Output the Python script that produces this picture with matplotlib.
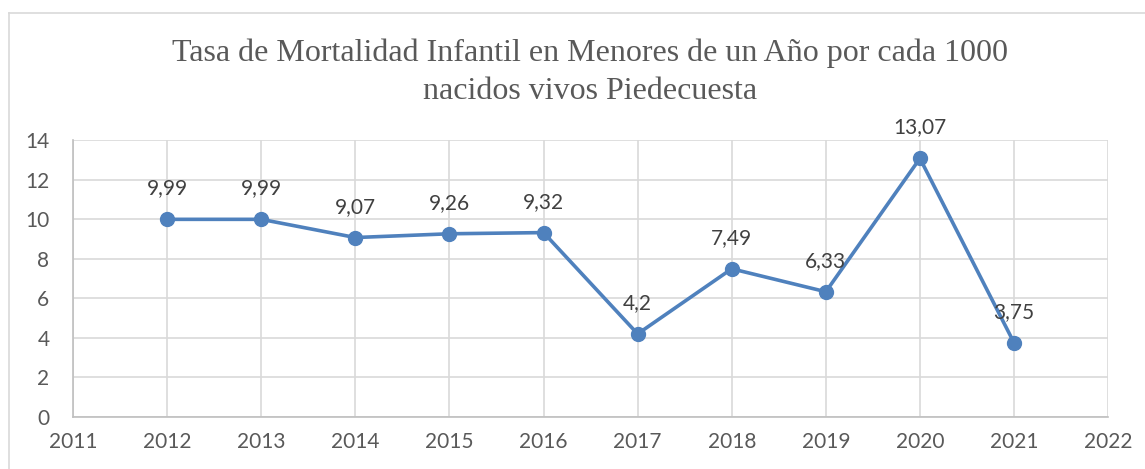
import matplotlib.pyplot as plt
from matplotlib.lines import Line2D

# datos
years = [2012, 2013, 2014, 2015, 2016, 2017, 2018, 2019, 2020, 2021]
rates = [9.99, 9.99, 9.07, 9.26, 9.32, 4.2, 7.49, 6.33, 13.07, 3.75]
labels = ['9,99', '9,99', '9,07', '9,26', '9,32', '4,2', '7,49', '6,33', '13,07', '3,75']
x_ticks = list(range(2011, 2023))
y_ticks = [0, 2, 4, 6, 8, 10, 12, 14]

title = 'Tasa de Mortalidad Infantil en Menores de un Año por cada 1000\nnacidos vivos Piedecuesta'

fig = plt.figure(figsize=(11.45, 4.69), dpi=100)
ax = fig.add_axes([0.0638, 0.1109, 0.904, 0.5906])

# marco del gráfico
fig.add_artist(Line2D([9 / 1145, 9 / 1145], [0, 1 - 13 / 469], color='#d9d9d9', lw=1.2))
fig.add_artist(Line2D([9 / 1145, 1], [1 - 13 / 469, 1 - 13 / 469], color='#d9d9d9', lw=1.2))

ax.plot(years, rates, color='#4f81bd', lw=2.6, marker='o', markersize=10, zorder=3)

for x, y, t in zip(years, rates, labels):
    ax.annotate(t, (x, y), xytext=(0, 15), textcoords='offset points',
                ha='center', va='bottom', fontsize=15, color='#404040', family='Lato')

ax.set_xlim(2011, 2022)
ax.set_ylim(0, 14)
ax.set_xticks(x_ticks)
ax.set_yticks(y_ticks)
ax.grid(True, color='#d9d9d9', lw=1.2)
ax.set_axisbelow(True)
for s in ['top', 'right']:
    ax.spines[s].set_visible(False)
for s in ['left', 'bottom']:
    ax.spines[s].set_color('#bfbfbf')
    ax.spines[s].set_linewidth(1.2)
ax.tick_params(length=0, labelsize=15, labelcolor='#595959')
ax.tick_params(axis='x', pad=11)
ax.tick_params(axis='y', pad=17)
for lab in ax.get_xticklabels() + ax.get_yticklabels():
    lab.set_family('Lato')

fig.text(0.515, 1 - 72 / 469, title, ha='center', va='center', fontsize=23,
         color='#595959', family='Liberation Serif', linespacing=1.4)

fig.savefig('out.png', dpi=100)
